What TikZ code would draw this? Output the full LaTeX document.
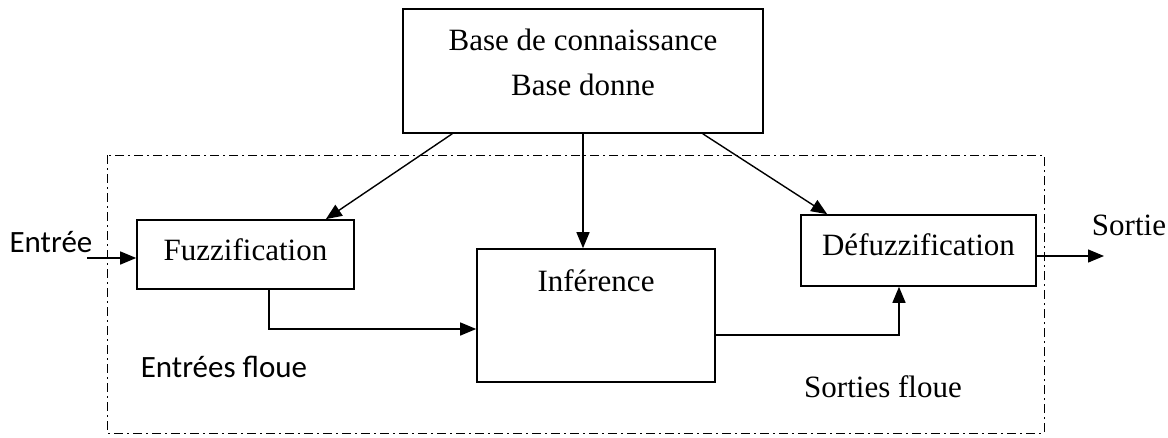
\documentclass[tikz,border=0pt]{standalone}
\usepackage{fontspec}
\setmainfont{Liberation Serif}
\newfontfamily\calib{Carlito}
\usetikzlibrary{arrows.meta}
\begin{document}
\begin{tikzpicture}[x=1pt,y=-1pt,
  blk/.style={draw,line width=1.6pt,rectangle,inner sep=0pt},
  txt/.style={inner sep=0pt,font=\fontsize{31}{45}\selectfont},
  stxt/.style={inner sep=0pt,font=\calib\fontsize{31}{45}\selectfont},
  arr/.style={line width=1.4pt,-{Triangle[length=16pt,width=13pt]}},
  frame/.style={line width=1pt,dash pattern=on 9pt off 4pt on 2pt off 4pt}]
\useasboundingbox (0,0) rectangle (1168,437);
\node[blk,minimum width=360pt,minimum height=124pt] (kb) at (583,71) {};
\node[txt,align=center] (kbt) at (583,62) {Base de connaissance\\Base donne};
\node[blk,minimum width=217pt,minimum height=69pt] (fuz) at (245.5,254.5) {};
\node[txt] (fuzt) at (245.5,250) {Fuzzification};
\node[blk,minimum width=238pt,minimum height=133pt] (inf) at (596,315.5) {};
\node[txt] (inft) at (596,281) {Inférence};
\node[blk,minimum width=235pt,minimum height=71pt] (def) at (918.5,250.5) {};
\node[txt] (deft) at (918.5,245) {Défuzzification};
\draw[frame] (107,155) rectangle (1044,433);
\node[stxt] (ein) at (51,242) {Entrée};
\node[stxt] (ef) at (224,367) {Entrées floue};
\node[txt] (so) at (1129,225) {Sortie};
\node[txt] (sf) at (883,387) {Sorties floue};
\coordinate (inpt) at (87,258);
\coordinate (outpt) at (1104,256);
\draw[arr] ([xshift=50pt]kb.south west) -- ([xshift=-29pt]fuz.north east);
\draw[arr] (kb.south) -- (kb.south |- inf.north);
\draw[arr] ([xshift=-61pt]kb.south east) -- ([xshift=27pt]def.north west);
\draw[arr] (inpt) -- (inpt -| fuz.west);
\draw[arr] ([xshift=23.5pt]fuz.south) |- ([yshift=-13.5pt]inf.west);
\draw[arr] ([yshift=-19.5pt]inf.east) -| ([xshift=-19.5pt]def.south);
\draw[arr] ([yshift=-5.5pt]def.east) -- (outpt);
\end{tikzpicture}
\end{document}
